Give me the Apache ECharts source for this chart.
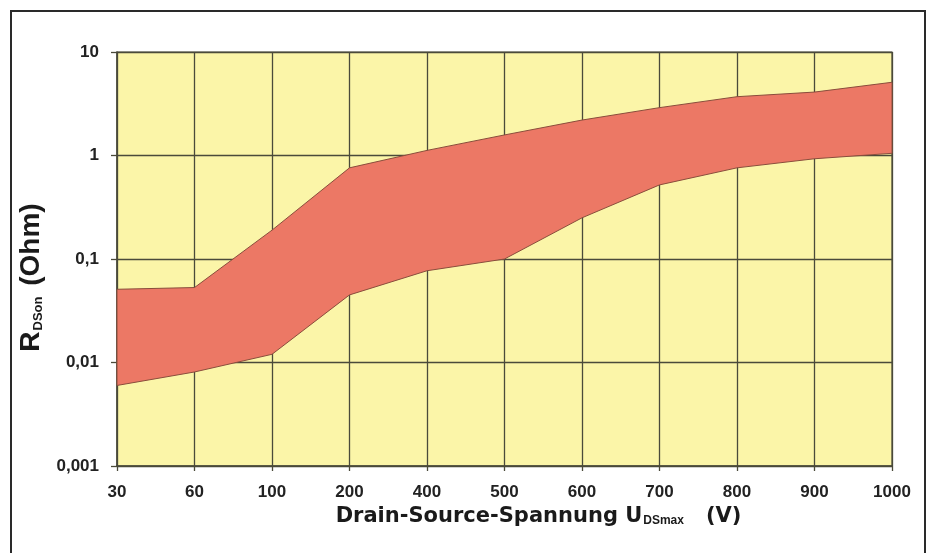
<!DOCTYPE html>
<html>
<head>
<meta charset="utf-8">
<script src="https://cdn.jsdelivr.net/npm/echarts@6/dist/echarts.min.js"></script>
<style>
  html, body { margin: 0; padding: 0; background: #ffffff; }
  #frame { position: absolute; left: 10px; top: 10px; width: 912px; height: 600px;
           border-left: 2px solid #2a2a2a; border-top: 2px solid #2a2a2a; border-right: 2px solid #2a2a2a; }
  #chart { position: absolute; left: 0; top: 0; width: 928px; height: 553px; }
</style>
</head>
<body>
<div id="frame"></div>
<div id="chart"></div>
<script>
// Drain-source voltage categories (V)
var voltages = ['30', '60', '100', '200', '400', '500', '600', '700', '800', '900', '1000'];
// Lower edge of the R_DSon band (Ohm)
var rdsLower = [0.006, 0.0081, 0.012, 0.045, 0.077, 0.10, 0.25, 0.52, 0.76, 0.93, 1.05];
// Upper edge of the R_DSon band (Ohm)
var rdsUpper = [0.051, 0.053, 0.19, 0.76, 1.12, 1.58, 2.2, 2.9, 3.7, 4.1, 5.1];
// Y tick labels (decades)
var yTickValues = [0.001, 0.01, 0.1, 1, 10];
var yTickLabels = ['0,001', '0,01', '0,1', '1', '10'];

var bandData = voltages.map(function (v, i) { return [i, rdsLower[i], rdsUpper[i]]; });

var chart = echarts.init(document.getElementById('chart'), null, { renderer: 'canvas' });
var gridColor = '#4a4a3a';
var labelFont = 'Liberation Sans, Arial, Helvetica, sans-serif';
var titleFont = 'DejaVu Sans, Verdana, sans-serif';

chart.setOption({
  backgroundColor: 'transparent',
  animation: false,
  grid: {
    left: 117, right: 36, top: 52, bottom: 87,
    show: true, backgroundColor: '#FBF5A8', borderColor: gridColor, borderWidth: 1.2
  },
  xAxis: {
    type: 'category',
    data: voltages,
    boundaryGap: false,
    axisLine: { lineStyle: { color: gridColor, width: 1.5 } },
    axisTick: { show: true, length: 5, lineStyle: { color: gridColor, width: 1.3 } },
    axisLabel: { margin: 18, color: '#222', fontWeight: 'bold', fontSize: 17, fontFamily: labelFont },
    splitLine: { show: true, lineStyle: { color: gridColor, width: 1.3 } },
    name: '{b|Drain-Source-Spannung U}{s|DSmax}{b|   (V)}',
    nameLocation: 'middle',
    nameGap: 38,
    nameTextStyle: {
      padding: [0, 0, 0, 68],
      rich: {
        b: { fontSize: 21, fontWeight: 'bold', color: '#1a1a1a', fontFamily: titleFont },
        s: { fontSize: 12, fontWeight: 'bold', color: '#1a1a1a', fontFamily: labelFont, padding: [9, 0, 0, 1] }
      }
    }
  },
  yAxis: {
    type: 'log',
    logBase: 10,
    min: 0.001,
    max: 10,
    axisLine: { show: true, lineStyle: { color: gridColor, width: 1.5 } },
    axisTick: { show: true, length: 6, lineStyle: { color: gridColor, width: 1.3 } },
    axisLabel: {
      margin: 18, color: '#222', fontWeight: 'bold', fontSize: 17, fontFamily: labelFont,
      formatter: function (val) {
        for (var k = 0; k < yTickValues.length; k++) {
          if (Math.abs(Math.log10(val) - Math.log10(yTickValues[k])) < 1e-6) return yTickLabels[k];
        }
        return '';
      }
    },
    splitLine: { show: true, lineStyle: { color: gridColor, width: 1.3 } },
    name: '{b|R}{s|DSon}{b| (Ohm)}',
    nameLocation: 'middle',
    nameRotate: 90,
    nameGap: 70,
    nameTextStyle: {
      padding: [0, 37, 0, 0],
      rich: {
        b: { fontSize: 28, fontWeight: 'bold', color: '#1a1a1a', fontFamily: labelFont },
        s: { fontSize: 13, fontWeight: 'bold', color: '#1a1a1a', fontFamily: labelFont, padding: [14, 3, 0, 1] }
      }
    }
  },
  series: [{
    type: 'custom',
    data: bandData,
    encode: { x: 0, y: [1, 2] },
    z: 3,
    renderItem: function (params, api) {
      if (params.dataIndex !== 0) return null;
      var pts = [];
      var n = bandData.length;
      for (var i = 0; i < n; i++) pts.push(api.coord([bandData[i][0], bandData[i][2]]));
      for (var j = n - 1; j >= 0; j--) pts.push(api.coord([bandData[j][0], bandData[j][1]]));
      return {
        type: 'polygon',
        shape: { points: pts },
        style: { fill: '#EC7865', stroke: '#8a4d3c', lineWidth: 1 }
      };
    }
  }]
});
</script>
</body>
</html>
